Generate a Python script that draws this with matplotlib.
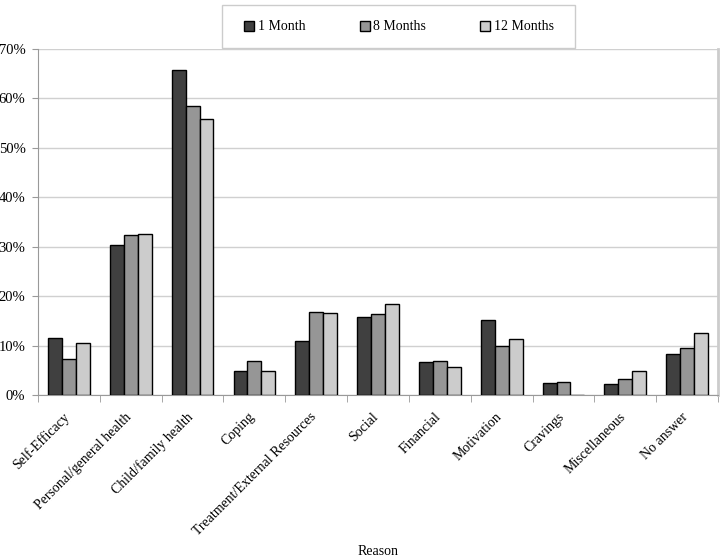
import numpy as np
import matplotlib.pyplot as plt
import matplotlib.transforms as mtransforms
from matplotlib.ticker import FuncFormatter, FixedLocator
from matplotlib.patches import Rectangle

reasons = ["Self-Efficacy", "Personal/general health", "Child/family health", "Coping",
           "Treatment/External Resources", "Social", "Financial", "Motivation",
           "Cravings", "Miscellaneous", "No answer"]
month1 = [11.6, 30.3, 65.8, 4.9, 11.0, 15.8, 6.7, 15.2, 2.5, 2.2, 8.2]
month8 = [7.3, 32.4, 58.5, 6.9, 16.8, 16.4, 6.9, 9.9, 2.6, 3.3, 9.5]
month12 = [10.5, 32.5, 55.8, 4.9, 16.5, 18.5, 5.6, 11.3, 0.0, 4.8, 12.5]
series_names = ["1 Month", "8 Months", "12 Months"]
colors = ["#404040", "#969696", "#cccccc"]

plt.rcParams['font.family'] = ['Liberation Serif', 'DejaVu Serif']

fig = plt.figure(figsize=(7.24, 5.58), dpi=100)
ax = fig.add_axes([38/724, 1 - 395/558, 680/724, 346/558])

x = np.arange(len(reasons))
w = 0.225
for i, (vals, name, c) in enumerate(zip([month1, month8, month12], series_names, colors)):
    ax.bar(x + (i - 1) * w, vals, w, color=c, edgecolor="black", linewidth=1.0,
           label=name, zorder=3)

ax.set_xlim(-0.5, len(reasons) - 0.5)
ax.set_ylim(0, 70)
ax.set_yticks(np.arange(0, 71, 10))
ax.yaxis.set_major_formatter(FuncFormatter(lambda v, p: "%d%%" % v))
ax.grid(axis="y", color="#d0d0d0", linewidth=1.0, zorder=0)

ax.set_xticks(x)
ax.set_xticklabels(reasons, rotation=45, ha="right", rotation_mode="anchor", fontsize=10)
ax.tick_params(axis="x", length=0, pad=11)
# nudge rotated labels a little to the left, like the original
shift = mtransforms.ScaledTranslation(-6/100, 0, fig.dpi_scale_trans)
for lbl in ax.get_xticklabels():
    lbl.set_transform(lbl.get_transform() + shift)
ax.xaxis.set_minor_locator(FixedLocator(np.arange(-0.5, len(reasons), 1)))
ax.tick_params(axis="x", which="minor", length=5, color="#999999", direction="out")
ax.tick_params(axis="y", labelsize=10.5, length=4, color="#999999", pad=5)

ax.spines["top"].set_visible(False)
for s in ["left", "bottom"]:
    ax.spines[s].set_color("#999999")
ax.spines["right"].set_color("#cccccc")
ax.spines["right"].set_linewidth(2)

ax.set_xlabel("Reason", fontsize=10)
ax.xaxis.set_label_coords((378 - 38) / 680, -(545 - 395) / 346)

# legend box drawn by hand, entries placed inside it
fig.patches.append(Rectangle((222/724, 1 - 48/558), 353/724, 43/558,
                             transform=fig.transFigure, facecolor="white",
                             edgecolor="#cccccc", linewidth=1.0))
fig.legend(loc="center", bbox_to_anchor=(399/724, 1 - 27/558), ncol=3,
           fontsize=10, frameon=False, handlelength=0.72, handleheight=0.72,
           handletextpad=0.25, columnspacing=3.9, borderaxespad=0)

fig.savefig("out.png", dpi=100)
